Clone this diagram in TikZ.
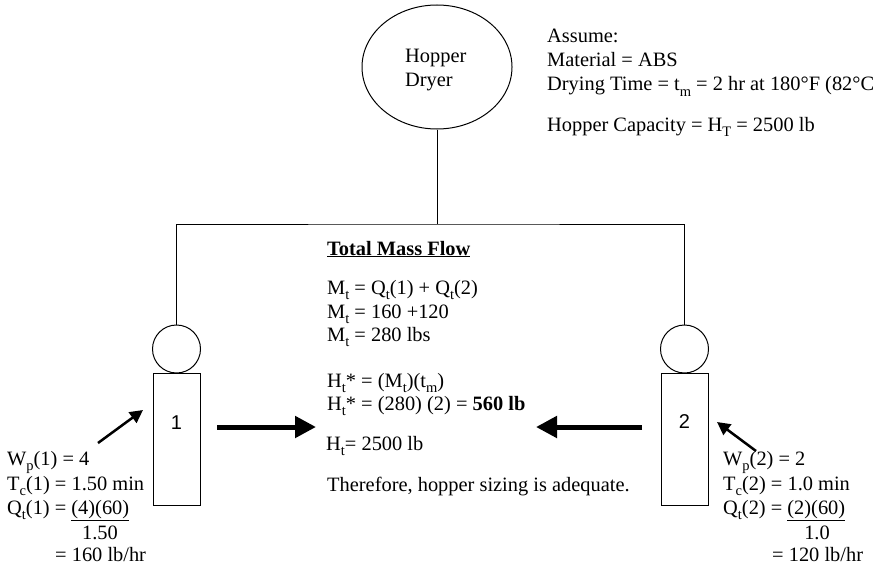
\documentclass[tikz,border=0pt]{standalone}
\usepackage{fontspec}
\setmainfont{Liberation Serif}
\newfontfamily\labelfont{Liberation Sans}
\usetikzlibrary{arrows.meta,shapes.geometric}
% lowered subscript in the text face
\newcommand\lsub[1]{\raisebox{-0.25em}{\fontsize{14.5}{14.5}\selectfont #1}}

\begin{document}
\begin{tikzpicture}[x=1pt,y=-1pt,
  txt/.style={anchor=base west, inner sep=0pt, font=\fontsize{20.4}{24}\selectfont},
  ctr/.style={anchor=base, inner sep=0pt, font=\fontsize{20.4}{24}\selectfont},
  pipe/.style={line width=1pt},
  valve/.style={circle, draw, line width=1pt, minimum size=48pt, inner sep=0pt},
  bin/.style={rectangle, draw, line width=1pt, minimum width=47pt, minimum height=132pt, inner sep=0pt},
  binlabel/.style={font=\labelfont\fontsize{20}{24}\selectfont, inner sep=0pt},
  bigarrow/.style={line width=5pt, -{Triangle[length=21pt,width=21pt]}},
  feedarrow/.style={line width=2.5pt, -{Triangle[length=13pt,width=13pt]}}
]
\useasboundingbox (0,0) rectangle (874,567);

% central dryer and distribution line
\node[ellipse, draw, line width=1pt, minimum width=150pt, minimum height=124pt] (dryer) at (437,67) {};
\node[txt] (dryer1) at (405,63) {Hopper};
\node[txt] (dryer2) at (405,87) {Dryer};
\coordinate (tee) at (dryer.south |- 0,224);

% machine 1
\node[valve] (v1) at (176.5,349) {};
\node[bin] (b1) at (176.5,439) {};
\node[binlabel] (n1) at (176.5,423) {1};

% machine 2
\node[valve] (v2) at (684.5,349) {};
\node[bin] (b2) at (684.5,439) {};
\node[binlabel] (n2) at (684.5,422) {2};

\draw[pipe] (dryer.south) -- (tee);
\draw[pipe] (v1.north) |- (tee) -| (v2.north);

% assumptions
\node[txt] (as1) at (547,43) {Assume:};
\node[txt] (as2) at (547,67) {Material = ABS};
\node[txt] (as3) at (547,91) {Drying Time = t\lsub{m} = 2 hr at 180°F (82°C};
\node[txt] (as4) at (547,131) {Hopper Capacity = H\lsub{T} = 2500 lb};

% total mass flow calculation
\node[txt] (tm0) at (327,255) {\underline{\textbf{Total Mass Flow}}};
\node[txt] (tm1) at (327,294) {M\lsub{t} = Q\lsub{t}(1) + Q\lsub{t}(2)};
\node[txt] (tm2) at (327,318) {M\lsub{t} = 160 +120};
\node[txt] (tm3) at (327,341) {M\lsub{t} = 280 lbs};
\node[txt] (tm4) at (327,387) {H\lsub{t}* = (M\lsub{t})(t\lsub{m})};
\node[txt] (tm5) at (327,410) {H\lsub{t}* = (280) (2) = \textbf{560 lb}};
\node[txt] (tm6) at (326,450) {H\lsub{t}= 2500 lb};
\node[txt] (tm7) at (327,491) {Therefore, hopper sizing is adequate.};

% machine 1 data
\node[txt] (l1) at (7,465) {W\lsub{p}(1) = 4};
\node[txt] (l2) at (7,490) {T\lsub{c}(1) = 1.50 min};
\node[txt] (l3) at (7,514) {Q\lsub{t}(1) = \underline{(4)(60)}};
\node[ctr] (l4) at (100,539) {1.50};
\node[txt] (l5) at (55,561) {= 160 lb/hr};

% machine 2 data
\node[txt] (r1) at (723,465) {W\lsub{p}(2) = 2};
\node[txt] (r2) at (723,490) {T\lsub{c}(2) = 1.0 min};
\node[txt] (r3) at (723,514) {Q\lsub{t}(2) = \underline{(2)(60)}};
\node[ctr] (r4) at (817,539) {1.0};
\node[txt] (r5) at (772,561) {= 120 lb/hr};

% feed arrows
\coordinate (f1s) at (98,443);
\coordinate (f1e) at (143,410);
\coordinate (f2s) at (756,451);
\coordinate (f2e) at (717,422);
\draw[feedarrow] (f1s) -- (f1e);
\draw[feedarrow] (f2s) -- (f2e);

% flow arrows towards the total
\coordinate (a1s) at (217,427);
\coordinate (a1e) at (316,427);
\coordinate (a2s) at (642,427);
\coordinate (a2e) at (536,427);
\draw[bigarrow] (a1s) -- (a1e);
\draw[bigarrow] (a2s) -- (a2e);
\end{tikzpicture}
\end{document}
